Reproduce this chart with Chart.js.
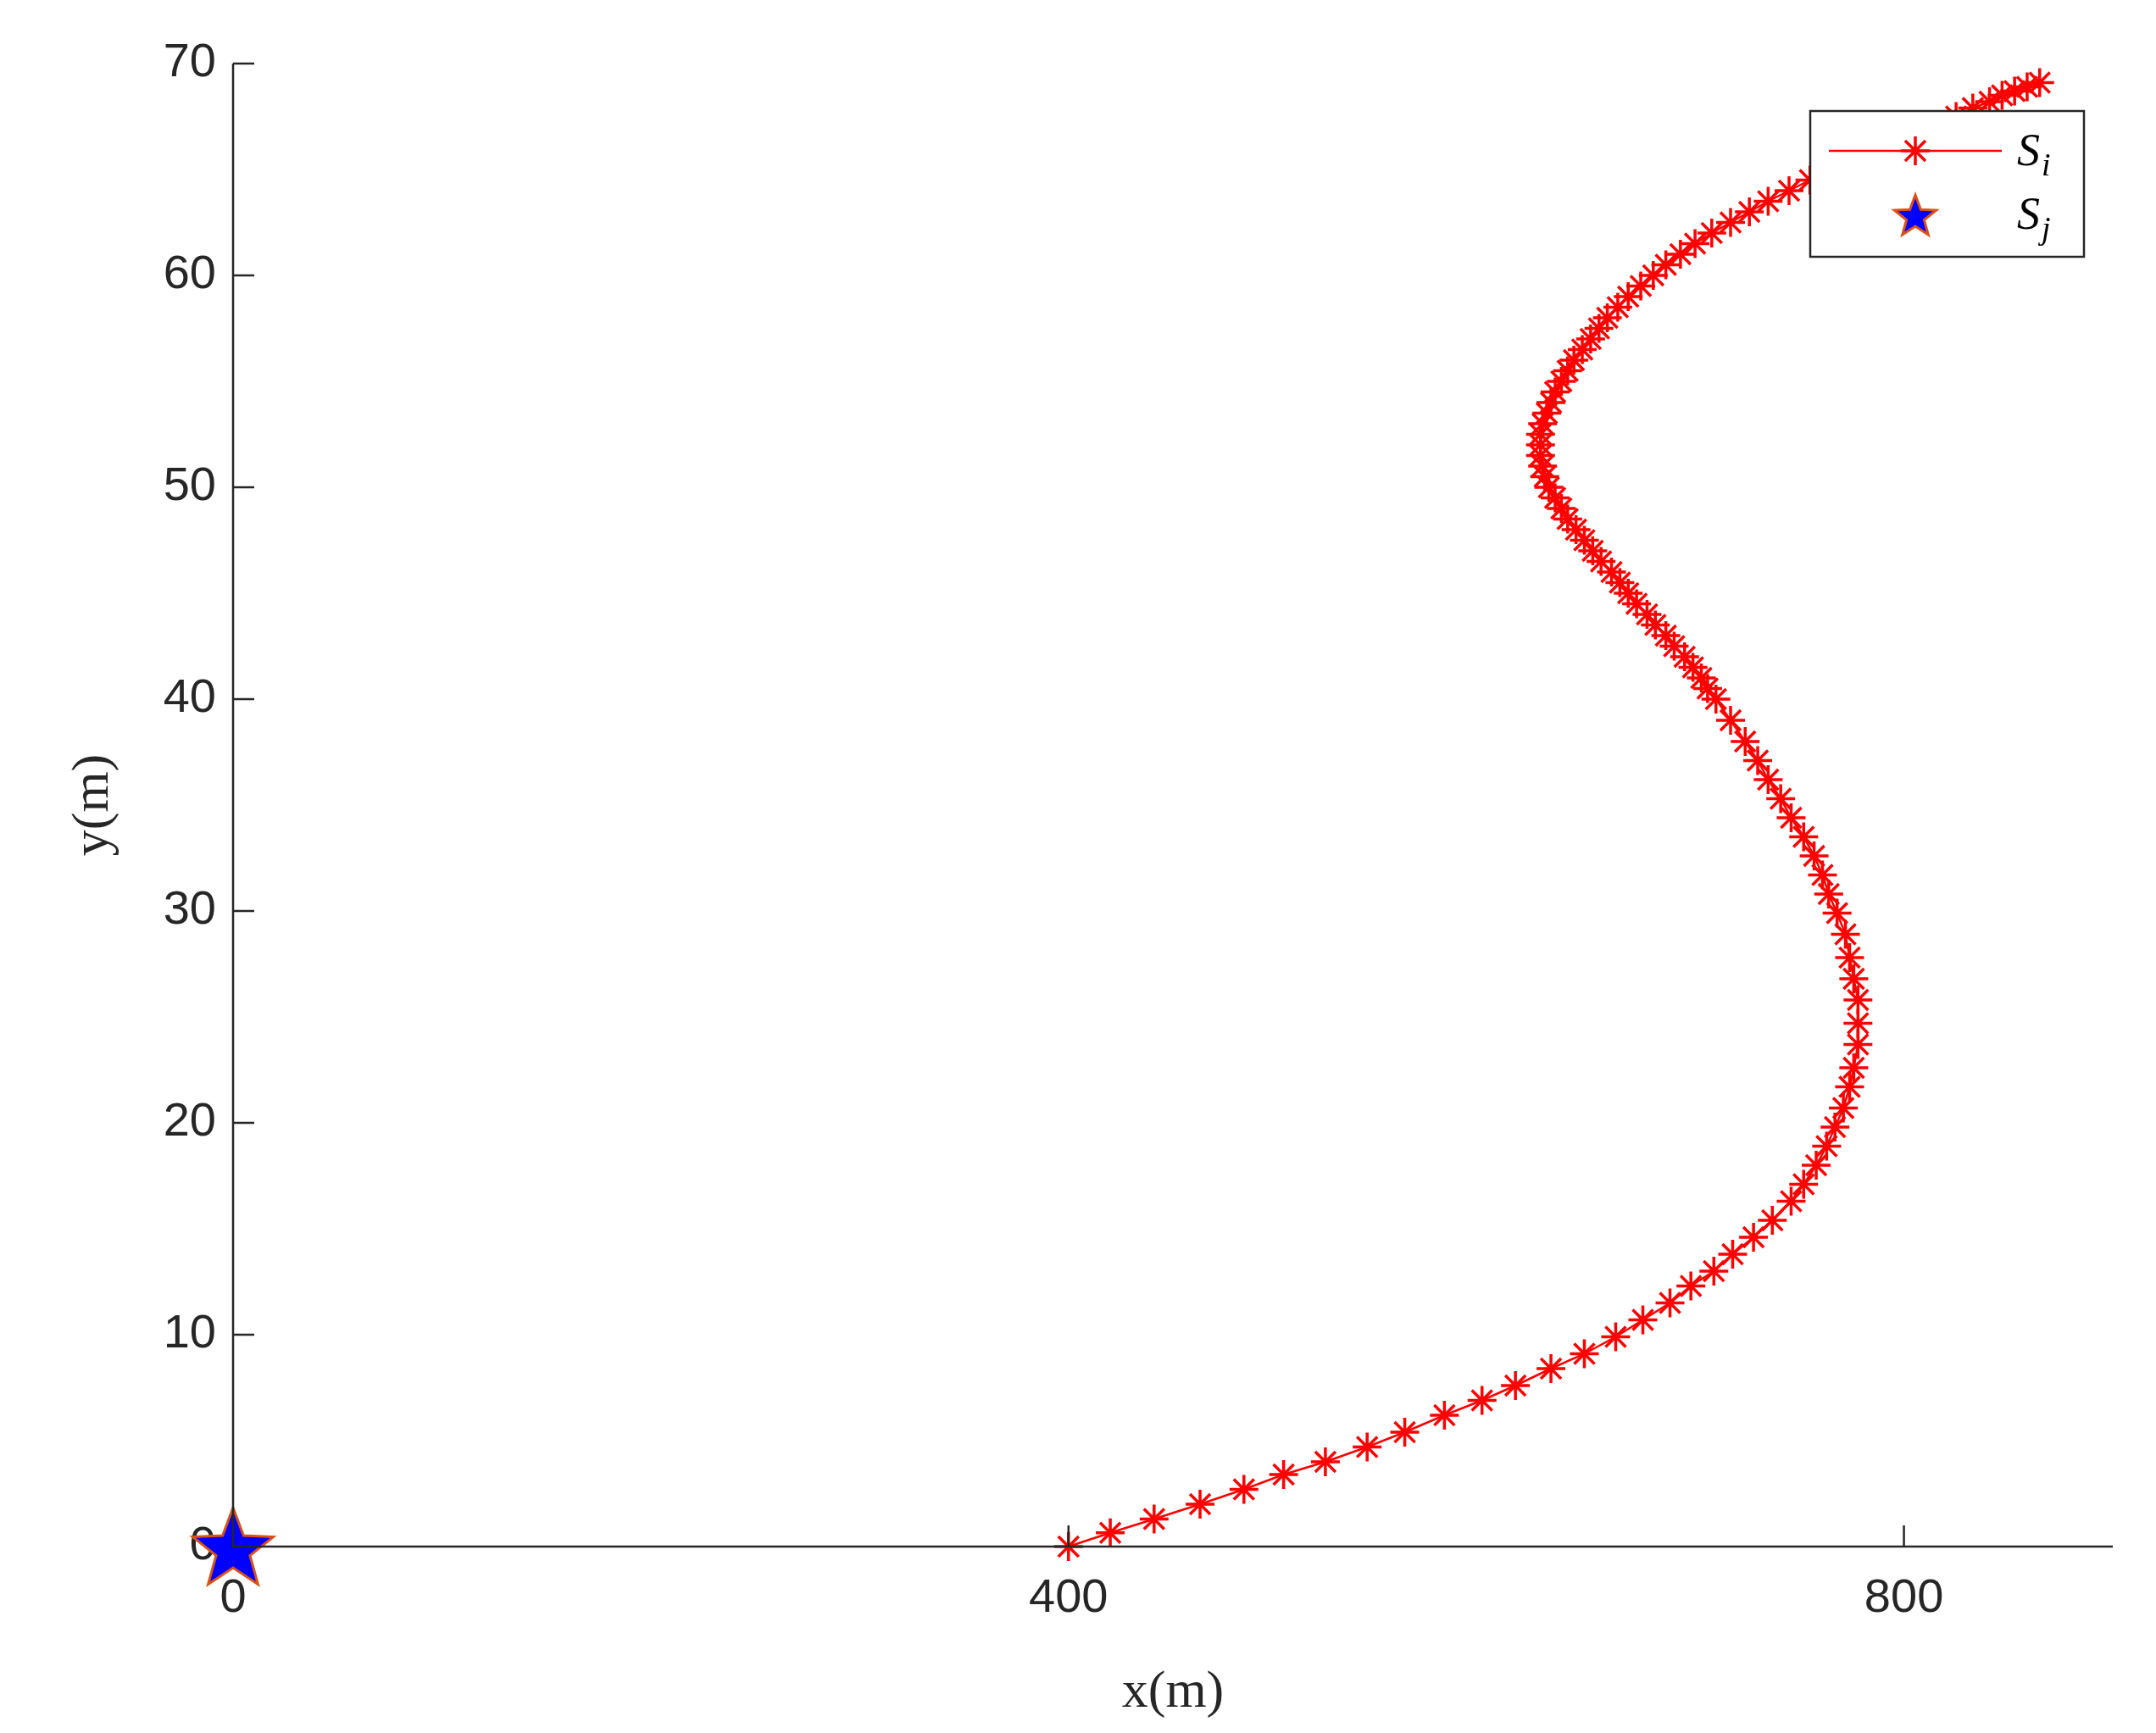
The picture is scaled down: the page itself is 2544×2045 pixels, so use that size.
<!DOCTYPE html>
<html><head><meta charset="utf-8">
<script src="https://cdn.jsdelivr.net/npm/chart.js@4"></script>
<style>html,body{margin:0;padding:0;background:#fff}#w{width:2544px;height:2045px}</style>
</head><body><div id="w"><canvas id="c"></canvas></div>
<script>
const seriesLabels = ['S_i', 'S_j'];
const xTicks = [0, 400, 800];
const yTicks = [0, 10, 20, 30, 40, 50, 60, 70];
const siX = [400,420,441,463,484,503,523,543,561,580,598,614,631,647,662,675,688,698,709,718,728,737,746,752,758,763,767,771,774,776,778,778,778,776,774,772,768,764,761,757,752,746,741,735,730,724,717,710,706,703,699,695,690,686,681,677,672,668,664,660,655,651,647,643,639,636,633,630,628,627,626,626,626,627,629,631,633,636,639,642,646,650,654,658,663,668,674,680,686,693,700,708,717,726,735,745,755,765,777,790,802,815,825,833,841,847,853,859,865];
const siY = [0,0.65,1.3,2,2.7,3.4,4.0,4.7,5.4,6.2,6.9,7.6,8.4,9.1,9.9,10.7,11.5,12.3,13.0,13.8,14.6,15.4,16.3,17.1,18,18.9,19.8,20.7,21.7,22.6,23.7,24.7,25.8,26.8,27.8,28.9,29.9,30.8,31.7,32.6,33.5,34.4,35.3,36.2,37.1,38.0,39.0,40.0,40.5,41,41.5,42,42.5,43,43.5,44,44.5,45,45.5,46,46.5,47,47.5,48,48.5,49,49.5,50,50.5,51,51.5,52,52.5,53,53.5,54,54.5,55,55.5,56,56.5,57,57.5,58,58.5,59,59.5,60,60.5,61,61.5,62,62.5,63,63.5,64,64.5,65,65.5,66,66.5,67,67.5,67.9,68.2,68.5,68.7,68.9,69.1];
const sjX = [0];
const sjY = [0];

function starImg(r){
  const c=document.createElement('canvas');c.width=c.height=Math.ceil(r*2+8);
  const g=c.getContext('2d');const cx=c.width/2,cy=c.height/2+r*0.08;
  g.beginPath();
  for(let k=0;k<10;k++){const a=-Math.PI/2+k*Math.PI/5;const rr=k%2?r*0.42:r;
    g.lineTo(cx+rr*Math.cos(a),cy+rr*Math.sin(a));}
  g.closePath();g.fillStyle='#0000ff';g.fill();g.lineWidth=3;g.strokeStyle='#d95319';g.stroke();
  return c;
}
const bigStar=starImg(50), smallStar=starImg(26);

const inTicks={id:'inTicks',afterDraw(ch){
  const g=ch.ctx,a=ch.chartArea,xs=ch.scales.x,ys=ch.scales.y;
  g.save();g.strokeStyle='#262626';g.lineWidth=2.5;g.beginPath();
  g.moveTo(a.left,a.top);g.lineTo(a.left,a.bottom);g.lineTo(a.right,a.bottom);
  xTicks.forEach(v=>{const p=xs.getPixelForValue(v);g.moveTo(p,a.bottom);g.lineTo(p,a.bottom-25);});
  yTicks.forEach(v=>{const p=ys.getPixelForValue(v);g.moveTo(a.left,p);g.lineTo(a.left+25,p);});
  g.stroke();
  const L=2136,T=131,R=2459,B=303;
  g.fillStyle='#fff';g.fillRect(L,T,R-L,B-T);g.strokeStyle='#262626';g.lineWidth=2.5;g.strokeRect(L,T,R-L,B-T);
  g.strokeStyle='#ff0000';g.lineWidth=2.5;g.beginPath();g.moveTo(2158,178);g.lineTo(2362,178);g.stroke();
  const sr=17;g.lineWidth=3.5;g.beginPath();
  for(let k=0;k<4;k++){const an=k*Math.PI/4;g.moveTo(2260-sr*Math.cos(an),178-sr*Math.sin(an));g.lineTo(2260+sr*Math.cos(an),178+sr*Math.sin(an));}
  g.stroke();
  g.drawImage(smallStar,2260-smallStar.width/2,254-smallStar.height/2);
  g.fillStyle='#000';g.textBaseline='alphabetic';
  [[seriesLabels[0],195],[seriesLabels[1],270]].forEach(([t,y])=>{
    const [b,s]=t.split('_');
    g.font='italic 54px "Liberation Serif"';g.fillText(b,2380,y);
    const w=g.measureText(b).width;
    g.font='italic 38px "Liberation Serif"';g.fillText(s,2380+w+2,y+12);
  });
  g.restore();
}};

new Chart(document.getElementById('c'),{
  type:'scatter',
  data:{datasets:[
    {label:seriesLabels[0],data:siX.map((x,i)=>({x,y:siY[i]})),showLine:true,borderColor:'#ff0000',borderWidth:2.5,clip:false,
     pointStyle:'star',pointRadius:17,pointBorderColor:'#ff0000',pointBorderWidth:3.5,pointBackgroundColor:'#ff0000'},
    {label:seriesLabels[1],data:sjX.map((x,i)=>({x,y:sjY[i]})),pointStyle:bigStar,pointRadius:50,clip:false}
  ]},
  options:{responsive:true,maintainAspectRatio:false,animation:false,
    layout:{padding:{top:75,right:28,left:70,bottom:0}},
    plugins:{legend:{display:false},tooltip:{enabled:false}},
    scales:{
      x:{min:0,max:900,afterFit(s){s.height=220;},
        afterBuildTicks(s){s.ticks=xTicks.map(v=>({value:v}));},
        grid:{display:false},border:{display:false},
        ticks:{color:'#262626',font:{size:56,family:'Liberation Sans'},padding:20},
        title:{display:true,text:'x(m)',color:'#262626',font:{size:62,family:'Liberation Serif'},padding:{top:0,bottom:10}}},
      y:{min:0,max:70,afterFit(s){s.width=205;},
        afterBuildTicks(s){s.ticks=yTicks.map(v=>({value:v}));},
        grid:{display:false},border:{display:false},
        ticks:{color:'#262626',font:{size:56,family:'Liberation Sans'},padding:12},
        title:{display:true,text:'y(m)',color:'#262626',font:{size:62,family:'Liberation Serif'},padding:{bottom:0}}}
    }},
  plugins:[inTicks]
});
</script></body></html>
